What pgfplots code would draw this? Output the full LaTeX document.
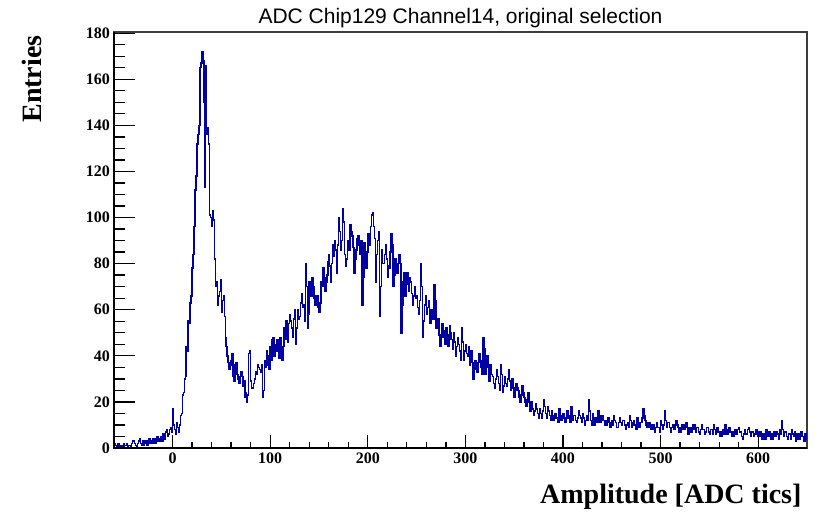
\documentclass[border=0pt]{standalone}
\usepackage{fontspec}
\setmainfont{Liberation Serif}
\newfontfamily\titlefont{Liberation Sans}
\usepackage{pgfplots}
\pgfplotsset{compat=1.18}

\definecolor{histblue}{RGB}{0,0,165}
\definecolor{framegray}{RGB}{60,60,60}

\begin{document}
\begin{tikzpicture}
\begin{axis}[
    scale only axis,
    width=693pt, height=416pt,
    xmin=-60, xmax=650, ymin=0, ymax=180.5,
    clip=false,
    axis line style={draw=framegray, line width=1.2pt},
    tick align=inside,
    xtick pos=left, ytick pos=left,
    xtick={0,100,...,600}, minor x tick num=4,
    ytick={0,20,...,180}, minor y tick num=3,
    xtick style={black, line width=1.3pt, /pgfplots/major tick length=13pt, /pgfplots/minor tick length=6.5pt},
    ytick style={black, line width=1.3pt, /pgfplots/major tick length=21pt, /pgfplots/minor tick length=11pt},
    /pgf/number format/assume math mode=true,
    ticklabel style={font=\fontsize{16}{18}\selectfont\bfseries},
    xticklabel style={anchor=north, inner sep=0pt, yshift=-5pt},
    yticklabel style={anchor=east, inner sep=0pt, xshift=-4pt},
  ]
  % histogram, 1-unit bins, left edges
  \addplot[const plot mark left, mark=none, draw=histblue, line width=1.5pt] coordinates {
    (-60,2) (-59,1) (-58,1) (-57,0) (-56,2) (-55,1) (-54,0) (-53,1) (-52,1) (-51,0)
    (-50,2) (-49,1) (-48,1) (-47,2) (-46,0) (-45,1) (-44,1) (-43,0) (-42,2) (-41,3)
    (-40,3) (-39,2) (-38,1) (-37,0) (-36,2) (-35,3) (-34,4) (-33,2) (-32,1) (-31,3)
    (-30,1) (-29,2) (-28,3) (-27,2) (-26,1) (-25,3) (-24,4) (-23,2) (-22,3) (-21,2)
    (-20,4) (-19,3) (-18,2) (-17,4) (-16,5) (-15,3) (-14,3) (-13,4) (-12,5) (-11,3)
    (-10,6) (-9,4) (-8,5) (-7,7) (-6,8) (-5,5) (-4,6) (-3,8) (-2,9) (-1,7)
    (0,17) (1,10) (2,8) (3,6) (4,11) (5,9) (6,7) (7,10) (8,14) (9,15)
    (10,23) (11,24) (12,30) (13,31) (14,44) (15,42) (16,55) (17,54) (18,63) (19,66)
    (20,78) (21,84) (22,96) (23,112) (24,118) (25,132) (26,136) (27,140) (28,165) (29,167)
    (30,172) (31,168) (32,150) (33,113) (34,166) (35,136) (36,139) (37,132) (38,101) (39,100)
    (40,96) (41,103) (42,99) (43,82) (44,70) (45,72) (46,62) (47,66) (48,68) (49,73)
    (50,59) (51,64) (52,66) (53,57) (54,48) (55,44) (56,40) (57,37) (58,34) (59,36)
    (60,38) (61,41) (62,31) (63,29) (64,36) (65,37) (66,32) (67,30) (68,28) (69,31)
    (70,33) (71,31) (72,27) (73,29) (74,22) (75,24) (76,20) (77,23) (78,41) (79,42)
    (80,29) (81,26) (82,26) (83,28) (84,30) (85,33) (86,32) (87,36) (88,35) (89,34)
    (90,33) (91,36) (92,22) (93,25) (94,38) (95,35) (96,42) (97,40) (98,36) (99,34)
    (100,44) (101,38) (102,47) (103,48) (104,40) (105,42) (106,45) (107,47) (108,42) (109,39)
    (110,48) (111,43) (112,38) (113,44) (114,52) (115,47) (116,55) (117,50) (118,46) (119,54)
    (120,58) (121,55) (122,52) (123,48) (124,56) (125,60) (126,45) (127,52) (128,60) (129,56)
    (130,57) (131,63) (132,67) (133,61) (134,62) (135,55) (136,80) (137,70) (138,52) (139,58)
    (140,72) (141,69) (142,66) (143,74) (144,70) (145,65) (146,62) (147,66) (148,66) (149,61)
    (150,59) (151,63) (152,72) (153,70) (154,78) (155,74) (156,68) (157,72) (158,75) (159,81)
    (160,84) (161,79) (162,72) (163,80) (164,88) (165,83) (166,90) (167,86) (168,76) (169,88)
    (170,100) (171,94) (172,86) (173,90) (174,104) (175,98) (176,84) (177,79) (178,82) (179,90)
    (180,88) (181,86) (182,97) (183,94) (184,92) (185,87) (186,76) (187,82) (188,86) (189,91)
    (190,92) (191,88) (192,84) (193,90) (194,62) (195,74) (196,89) (197,85) (198,78) (199,85)
    (200,93) (201,90) (202,88) (203,96) (204,101) (205,102) (206,96) (207,91) (208,72) (209,84)
    (210,90) (211,94) (212,57) (213,70) (214,86) (215,80) (216,80) (217,84) (218,88) (219,82)
    (220,74) (221,79) (222,78) (223,85) (224,93) (225,88) (226,70) (227,75) (228,82) (229,78)
    (230,76) (231,80) (232,84) (233,80) (234,50) (235,62) (236,72) (237,76) (238,66) (239,71)
    (240,76) (241,73) (242,68) (243,74) (244,72) (245,67) (246,62) (247,66) (248,70) (249,65)
    (250,66) (251,61) (252,58) (253,64) (254,80) (255,70) (256,48) (257,55) (258,62) (259,66)
    (260,58) (261,61) (262,64) (263,57) (264,54) (265,60) (266,60) (267,56) (268,71) (269,64)
    (270,52) (271,56) (272,56) (273,49) (274,44) (275,48) (276,54) (277,51) (278,48) (279,45)
    (280,52) (281,49) (282,44) (283,47) (284,53) (285,50) (286,47) (287,43) (288,50) (289,46)
    (290,40) (291,44) (292,48) (293,45) (294,42) (295,38) (296,52) (297,46) (298,38) (299,42)
    (300,45) (301,41) (302,40) (303,44) (304,36) (305,39) (306,42) (307,37) (308,30) (309,34)
    (310,38) (311,35) (312,33) (313,37) (314,41) (315,38) (316,35) (317,32) (318,48) (319,43)
    (320,32) (321,35) (322,40) (323,36) (324,29) (325,33) (326,36) (327,32) (328,31) (329,28)
    (330,26) (331,30) (332,34) (333,31) (334,28) (335,25) (336,36) (337,32) (338,24) (339,27)
    (340,31) (341,28) (342,27) (343,30) (344,34) (345,29) (346,25) (347,28) (348,30) (349,26)
    (350,22) (351,25) (352,28) (353,26) (354,25) (355,22) (356,20) (357,23) (358,27) (359,24)
    (360,22) (361,20) (362,18) (363,21) (364,24) (365,20) (366,16) (367,18) (368,20) (369,17)
    (370,14) (371,16) (372,19) (373,17) (374,15) (375,13) (376,17) (377,15) (378,13) (379,16)
    (380,21) (381,18) (382,15) (383,13) (384,18) (385,16) (386,14) (387,12) (388,16) (389,14)
    (390,12) (391,14) (392,15) (393,13) (394,13) (395,11) (396,17) (397,14) (398,12) (399,14)
    (400,15) (401,13) (402,11) (403,13) (404,16) (405,14) (406,13) (407,11) (408,18) (409,15)
    (410,12) (411,14) (412,14) (413,12) (414,11) (415,13) (416,16) (417,14) (418,13) (419,11)
    (420,15) (421,13) (422,10) (423,12) (424,14) (425,12) (426,21) (427,16) (428,12) (429,10)
    (430,15) (431,13) (432,10) (433,12) (434,13) (435,11) (436,16) (437,14) (438,11) (439,13)
    (440,14) (441,12) (442,12) (443,10) (444,10) (445,12) (446,13) (447,11) (448,9) (449,11)
    (450,12) (451,10) (452,14) (453,12) (454,11) (455,9) (456,9) (457,11) (458,13) (459,11)
    (460,10) (461,12) (462,12) (463,10) (464,8) (465,10) (466,11) (467,9) (468,14) (469,12)
    (470,9) (471,11) (472,12) (473,10) (474,10) (475,8) (476,13) (477,11) (478,9) (479,11)
    (480,11) (481,13) (482,17) (483,14) (484,12) (485,10) (486,9) (487,11) (488,11) (489,9)
    (490,8) (491,10) (492,10) (493,8) (494,7) (495,9) (496,11) (497,9) (498,9) (499,7)
    (500,12) (501,10) (502,8) (503,10) (504,16) (505,12) (506,9) (507,11) (508,11) (509,9)
    (510,7) (511,9) (512,10) (513,8) (514,8) (515,10) (516,12) (517,10) (518,9) (519,7)
    (520,7) (521,9) (522,10) (523,8) (524,8) (525,10) (526,11) (527,9) (528,6) (529,8)
    (530,9) (531,7) (532,8) (533,10) (534,10) (535,8) (536,7) (537,9) (538,9) (539,7)
    (540,6) (541,8) (542,10) (543,8) (544,8) (545,6) (546,7) (547,9) (548,9) (549,7)
    (550,6) (551,8) (552,8) (553,6) (554,10) (555,8) (556,6) (557,8) (558,9) (559,7)
    (560,7) (561,5) (562,5) (563,7) (564,8) (565,6) (566,10) (567,8) (568,6) (569,8)
    (570,9) (571,7) (572,7) (573,5) (574,5) (575,7) (576,8) (577,6) (578,6) (579,8)
    (580,9) (581,7) (582,7) (583,5) (584,4) (585,6) (586,8) (587,6) (588,6) (589,8)
    (590,9) (591,7) (592,5) (593,7) (594,7) (595,5) (596,6) (597,8) (598,8) (599,6)
    (600,5) (601,7) (602,7) (603,5) (604,4) (605,6) (606,6) (607,4) (608,8) (609,6)
    (610,5) (611,7) (612,6) (613,4) (614,4) (615,6) (616,7) (617,5) (618,5) (619,7)
    (620,6) (621,4) (622,8) (623,6) (624,12) (625,8) (626,5) (627,7) (628,7) (629,5)
    (630,4) (631,6) (632,6) (633,4) (634,8) (635,6) (636,5) (637,7) (638,3) (639,5)
    (640,6) (641,4) (642,4) (643,6) (644,7) (645,5) (646,5) (647,3) (648,6) (649,4)
    (650,4)
  };
  % thick left and bottom axis lines
  \draw[black, line width=2.4pt] (axis description cs:0,1) -- (axis description cs:0,0) -- (axis description cs:1,0);
  % titles and labels
  \node[anchor=base, font=\titlefont\fontsize{21}{24}\selectfont] at ([yshift=8pt]axis description cs:0.5,1) {ADC Chip129 Channel14, original selection};
  \node[rotate=90, anchor=base east, font=\fontsize{28}{32}\selectfont\bfseries] at ([xshift=-72pt]axis description cs:0,1) {Entries};
  \node[anchor=base east, font=\fontsize{28}{32}\selectfont\bfseries] at ([xshift=-2pt,yshift=-55pt]axis description cs:1,0) {Amplitude [ADC tics]};
  % page extent matching the reference
  \path ([xshift=-114pt,yshift=-61pt]axis description cs:0,0) rectangle ([xshift=16pt,yshift=32pt]axis description cs:1,1);
\end{axis}
\end{tikzpicture}
\end{document}
